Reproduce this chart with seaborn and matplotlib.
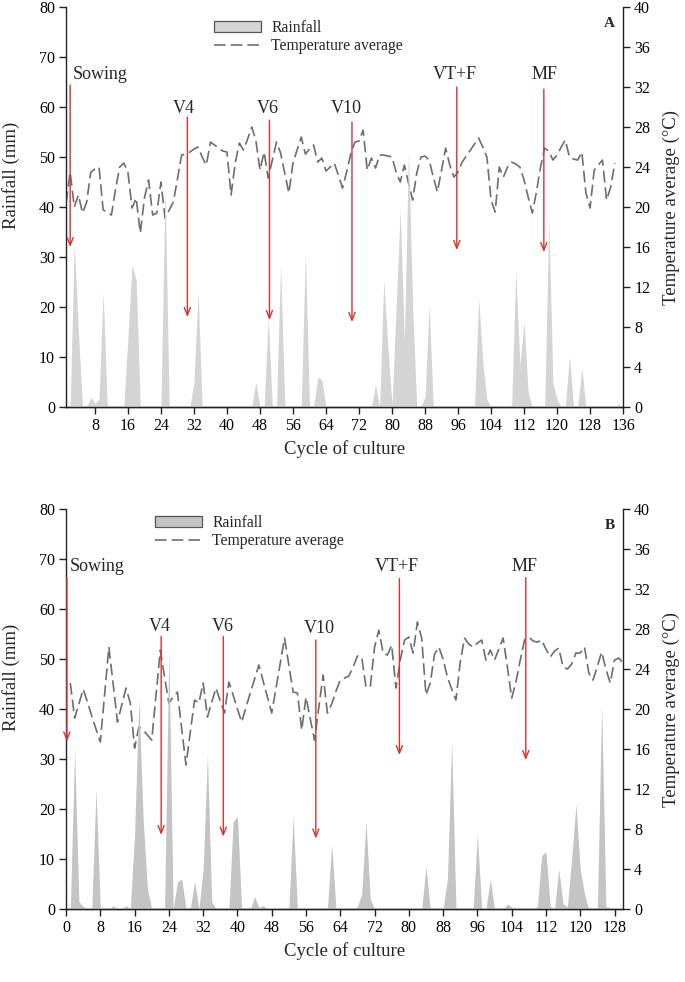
import numpy as np
import pandas as pd
import matplotlib
matplotlib.use('Agg')
import matplotlib.pyplot as plt
import seaborn as sns
from matplotlib.patches import Patch
from matplotlib.lines import Line2D

# -------------------------------------------------------
# Data (daily values)
# -------------------------------------------------------
# Panel A: days 1..136
rain_a = [0, 0, 33, 15, 0, 0, 2, 0.7, 1.7, 23,
          0, 0, 0, 0, 0, 14, 28.4, 25.4, 0, 0,
          0, 0, 0, 0, 44, 0, 0, 0, 0, 0,
          0, 5, 23, 0, 0, 0, 0, 0, 0, 0,
          0, 0, 0, 0, 0, 0, 5, 0, 0, 18,
          0, 0, 28.5, 0.5, 0, 0, 0, 0, 31, 0,
          0, 6, 5.4, 0, 0, 0, 0, 0, 0, 0,
          0, 0, 0, 0, 0, 4.4, 0, 25.4, 12, 0.5,
          20, 39.6, 13, 51.4, 20, 0, 0, 2, 20.4, 0,
          0, 0, 0, 0, 0, 0, 0, 0, 0, 0,
          21.8, 9, 1.5, 0, 0, 0, 0, 0, 0.5, 27.2,
          8.4, 17, 3, 0, 0, 0, 0, 37.7, 4.8, 1.5,
          0, 0, 10.2, 0, 0, 7.8, 0, 0, 0, 0,
          0, 0, 0, 0, 0.6, 0]
days_rain_a = list(range(1, 137))

# days 1..134
temp_a = [20.4, 23.5, 20.0, 21.2, 19.4, 20.5, 23.5, 23.8, 24.0, 19.7,
          19.5, 19.2, 21.8, 24.0, 24.4, 23.5, 19.9, 20.9, 17.4, 20.9,
          22.7, 19.2, 19.4, 22.5, 18.9, 19.7, 20.5, 22.8, 25.2, 25.3,
          25.5, 25.8, 26.0, 25.0, 24.2, 26.5, 26.2, 25.9, 25.6, 25.5,
          21.2, 24.4, 26.4, 25.7, 26.8, 28.0, 26.7, 23.7, 25.5, 22.9,
          24.7, 26.5, 25.4, 23.4, 21.4, 24.4, 25.7, 27.0, 25.3, 25.8,
          26.2, 24.5, 24.9, 23.6, 24.0, 24.4, 23.2, 21.9, 23.5, 25.3,
          26.5, 26.6, 27.7, 23.7, 24.9, 23.9, 25.2, 25.2, 25.1, 25.0,
          23.5, 22.5, 24.2, 22.4, 20.7, 23.4, 25.0, 25.1, 24.7, 23.0,
          21.5, 23.7, 25.9, 24.2, 23.0, 23.5, 24.5, 25.1, 25.7, 26.3,
          26.9, 26.0, 25.0, 20.7, 19.5, 24.0, 23.0, 24.0, 24.5, 24.3,
          24.0, 22.7, 21.0, 19.4, 21.5, 24.0, 25.9, 25.6, 24.7, 25.2,
          26.0, 26.7, 25.0, 24.8, 24.7, 25.5, 21.4, 19.9, 23.7, 24.2,
          24.7, 20.7, 22.0, 24.4]
days_temp_a = list(range(1, 135))

# Panel B: days 0..130
rain_b = [0, 0, 32, 1.5, 0.5, 0, 0, 24, 0, 0,
          0, 0.7, 0, 0, 0.7, 0, 15, 42, 18, 4,
          0, 0, 0, 0, 52, 0, 5.5, 6, 0, 0,
          5.5, 0, 8, 31, 1.5, 0, 0, 0, 0, 17.5,
          18.5, 0, 0, 0, 2.5, 0.3, 0.7, 0, 0, 0,
          0, 0, 0, 18.5, 0, 0, 0, 0, 0, 0,
          0, 0, 13, 0, 0, 0, 0, 0, 0.5, 3,
          17.5, 2, 0, 0, 0, 0, 0, 0, 0, 0,
          0, 0, 0, 0, 8.5, 0, 0, 0, 0, 6,
          33.5, 0, 0, 0, 0, 0, 15, 0, 0, 6,
          0, 0, 0, 1, 0.4, 0, 0, 0, 0, 0,
          0.5, 10.7, 11.5, 0.5, 0, 8, 1, 0.5, 10, 21,
          8, 3, 0, 0, 0, 41, 0.5, 0.3, 0, 0,
          0]
days_rain_b = list(range(0, 131))

# days 1..130
temp_b = [22.6, 19.1, 20.5, 22.0, 20.7, 19.3, 18.0, 16.7, 21.5, 26.2,
          22.5, 18.7, 20.4, 22.1, 20.6, 16.1, 18.2, 17.9, 17.4, 16.9,
          21.4, 25.9, 23.2, 20.6, 21.2, 21.7, 18.0, 14.4, 17.7, 20.9,
          20.6, 22.6, 19.2, 20.7, 22.1, 20.8, 19.6, 22.7, 21.4, 20.0,
          18.7, 20.2, 21.6, 23.0, 24.4, 22.8, 21.2, 19.6, 22.1, 24.6,
          27.1, 24.4, 21.7, 21.6, 17.9, 21.2, 19.0, 16.9, 20.2, 23.4,
          19.6, 20.5, 21.8, 22.9, 23.1, 23.3, 24.2, 25.3, 25.2, 22.2,
          22.2, 26.2, 27.9, 25.6, 25.4, 26.4, 22.1, 24.9, 26.9, 27.2,
          25.6, 28.7, 27.1, 21.4, 22.6, 25.5, 26.2, 25.0, 23.2, 22.0,
          20.9, 24.7, 27.1, 26.5, 26.2, 26.6, 26.9, 24.9, 25.9, 24.9,
          26.0, 27.1, 24.2, 21.1, 22.7, 24.9, 26.9, 27.2, 26.8, 26.7,
          26.9, 26.0, 25.2, 25.8, 26.1, 24.2, 24.0, 24.5, 25.6, 25.6,
          26.2, 23.6, 22.9, 24.3, 25.7, 24.0, 22.6, 24.9, 25.1, 24.6]
days_temp_b = list(range(1, 131))

# Phenological stages (day, arrow top / bottom in mm, label position)
stages = ['Sowing', 'V4', 'V6', 'V10', 'VT+F', 'MF']
stage_day_a = [2.0, 30.4, 50.3, 70.3, 95.7, 116.8]
stage_top_a = [64.4, 58, 57.4, 57, 64, 63.6]
stage_bot_a = [32, 18, 17.4, 17, 31.4, 31]
label_x_a = [2.7, 29.6, 50.0, 69.0, 95.3, 116.9]
label_y_a = [66.6, 59.8, 59.8, 59.8, 66.6, 66.6]

stage_day_b = [0.2, 22.2, 36.7, 58.3, 77.8, 107.3]
stage_top_b = [66.2, 54.5, 54.5, 53.8, 66.1, 66.3]
stage_bot_b = [33.5, 14.8, 14.5, 14.1, 30.8, 29.8]
label_x_b = [0.8, 21.9, 36.6, 59.0, 77.2, 107.1]
label_y_b = [68.5, 56.6, 56.6, 56.2, 68.6, 68.6]

# -------------------------------------------------------
# Style
# -------------------------------------------------------
sns.set_style('ticks')
plt.rcParams['font.family'] = ['Liberation Serif', 'DejaVu Serif']

RED = '#d8322e'
LINE = '#6e6e6e'
EDGE = '#222222'
DASH = (0, (7.0, 3.0))


def draw_panel(ax, days_r, rain, days_t, temp, fill_color, xlim, xticks,
               s_day, s_top, s_bot, l_x, l_y, letter, leg_anchor):
    df_r = pd.DataFrame({'day': days_r, 'rain': rain})
    df_t = pd.DataFrame({'day': days_t, 'temp': temp})

    ax.fill_between(df_r['day'], df_r['rain'], 0, color=fill_color, lw=0, zorder=1)
    ax.set_xlim(*xlim)
    ax.set_ylim(0, 80)
    ax.set_yticks(range(0, 81, 10))
    ax.set_xticks(xticks)

    ax2 = ax.twinx()
    sns.lineplot(data=df_t, x='day', y='temp', ax=ax2, color=LINE, lw=1.2,
                 linestyle=DASH, zorder=3)
    ax2.set_ylim(0, 40)
    ax2.set_yticks(range(0, 41, 4))
    ax2.set_xlim(*xlim)

    for a in (ax, ax2):
        a.spines['top'].set_visible(False)
        for sp in a.spines.values():
            sp.set_color(EDGE)
            sp.set_linewidth(1.0)
        a.tick_params(axis='both', length=5, width=1.0, colors=EDGE,
                      labelsize=11.5, labelcolor='black', pad=3)
    ax.spines['right'].set_visible(False)
    ax2.spines['left'].set_visible(False)

    ax.set_xlabel('Cycle of culture', fontsize=13.5, labelpad=4)
    ax.set_ylabel('Rainfall (mm)', fontsize=13.5)
    ax2.set_ylabel('Temperature average (°C)', fontsize=13.5)
    ax.yaxis.set_label_coords(-0.082, 0.578)
    ax2.yaxis.set_label_coords(1.071, 0.5)

    # stage arrows + labels
    for name, d, t, b, lx, ly in zip(stages, s_day, s_top, s_bot, l_x, l_y):
        ax.annotate('', xy=(d, b), xytext=(d, t),
                    arrowprops=dict(arrowstyle='->,head_length=0.55,head_width=0.22',
                                    color=RED, lw=1.0, shrinkA=0, shrinkB=0),
                    zorder=4)
        ha = 'left' if name == 'Sowing' else 'center'
        ax.text(lx, ly, name, ha=ha, va='center', fontsize=13, zorder=5)

    ax.text(0.985, 0.975, letter, transform=ax.transAxes, ha='right', va='top',
            fontsize=11, fontweight='bold')

    handles = [Patch(facecolor=fill_color, edgecolor='#555555', lw=0.9),
               Line2D([0], [0], color=LINE, lw=1.2, linestyle=DASH)]
    ax.legend(handles, ['Rainfall', 'Temperature average'], loc='upper left',
              bbox_to_anchor=leg_anchor, frameon=False, fontsize=11.3,
              handlelength=3.0, handletextpad=0.65, labelspacing=0.15,
              borderpad=0, borderaxespad=0)
    ax.set_zorder(ax2.get_zorder() + 1)
    ax.patch.set_visible(False)
    return ax2


fig = plt.figure(figsize=(6.85, 9.82), dpi=100)
ax_a = fig.add_axes([0.0964, 0.5855, 0.8132, 0.4073])
ax_b = fig.add_axes([0.0964, 0.0743, 0.8132, 0.4073])

draw_panel(ax_a, days_rain_a, rain_a, days_temp_a, temp_a, '#d4d4d4',
           (1, 136), list(range(8, 137, 8)),
           stage_day_a, stage_top_a, stage_bot_a, label_x_a, label_y_a,
           'A', (0.266, 0.968))
draw_panel(ax_b, days_rain_b, rain_b, days_temp_b, temp_b, '#c4c4c4',
           (0, 130), list(range(0, 129, 8)),
           stage_day_b, stage_top_b, stage_bot_b, label_x_b, label_y_b,
           'B', (0.160, 0.985))

fig.savefig('out.png', dpi=100)
